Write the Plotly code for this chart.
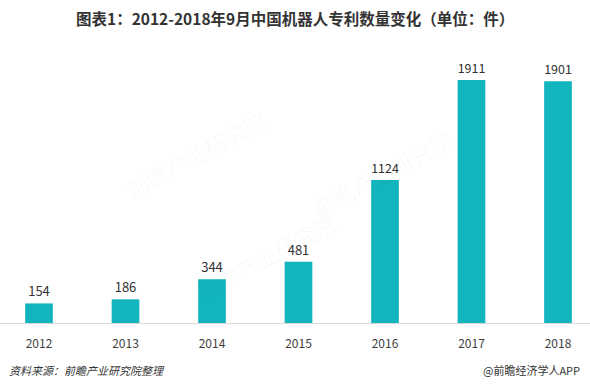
import plotly.graph_objects as go

years = ["2012", "2013", "2014", "2015", "2016", "2017", "2018"]
patents = [154, 186, 344, 481, 1124, 1911, 1901]
title_text = "图表1：2012-2018年9月中国机器人专利数量变化（单位：件）"
source_text = "资料来源：前瞻产业研究院整理"
brand_text = "@前瞻经济学人APP"

FONT = "Noto Sans CJK SC, Microsoft YaHei, sans-serif"
BAR = "#12B4BE"

fig = go.Figure()
fig.add_trace(go.Bar(
    x=list(range(len(years))), y=patents,
    marker=dict(color=BAR, line=dict(width=0)),
    width=0.32,
    text=[str(v) for v in patents], textposition="outside",
    textfont=dict(size=13, color="#333333", family=FONT),
    cliponaxis=False,
))

# faint watermarks
for (x, y) in [(0.20, 0.62), (0.78, 0.55), (0.45, 0.05)]:
    fig.add_annotation(xref="paper", yref="paper", x=x, y=y, text="前瞻产业研究院",
                       showarrow=False, textangle=-28,
                       font=dict(size=22, color="rgba(0,0,0,0.03)", family=FONT))

fig.add_annotation(xref="paper", yref="paper", x=0.5, y=1, yanchor="bottom", xanchor="center",
                   yshift=19, text="<b>" + title_text + "</b>", showarrow=False,
                   font=dict(size=15.5, color="#333333", family=FONT))

fig.update_layout(
    width=590, height=388,
    margin=dict(l=0, r=0, t=50, b=65),
    paper_bgcolor="white", plot_bgcolor="white",
    showlegend=False,
    xaxis=dict(range=[-0.451, 6.37], tickmode="array", tickvals=list(range(len(years))),
               ticktext=years, showgrid=False, zeroline=False,
               showline=True, linecolor="#D9D9D9", linewidth=1, ticks="",
               ticklabelstandoff=10,
               tickfont=dict(size=12, color="#404040", family=FONT), fixedrange=True),
    yaxis=dict(range=[0, 2146], visible=False, showgrid=False, zeroline=False, fixedrange=True),
    font=dict(family=FONT),
)

fig.add_annotation(xref="paper", yref="paper", x=0, xshift=7, y=-0.172, yanchor="middle",
                   xanchor="left", text="<i>" + source_text + "</i>", showarrow=False,
                   font=dict(size=11, color="#333333", family=FONT))
fig.add_annotation(xref="paper", yref="paper", x=1, xshift=-8, y=-0.172, yanchor="middle",
                   xanchor="right", text=brand_text, showarrow=False,
                   font=dict(size=11, color="#333333", family=FONT))

fig.write_html("out.html", config={"displayModeBar": False},
               post_script="document.body.style.margin='0';")
